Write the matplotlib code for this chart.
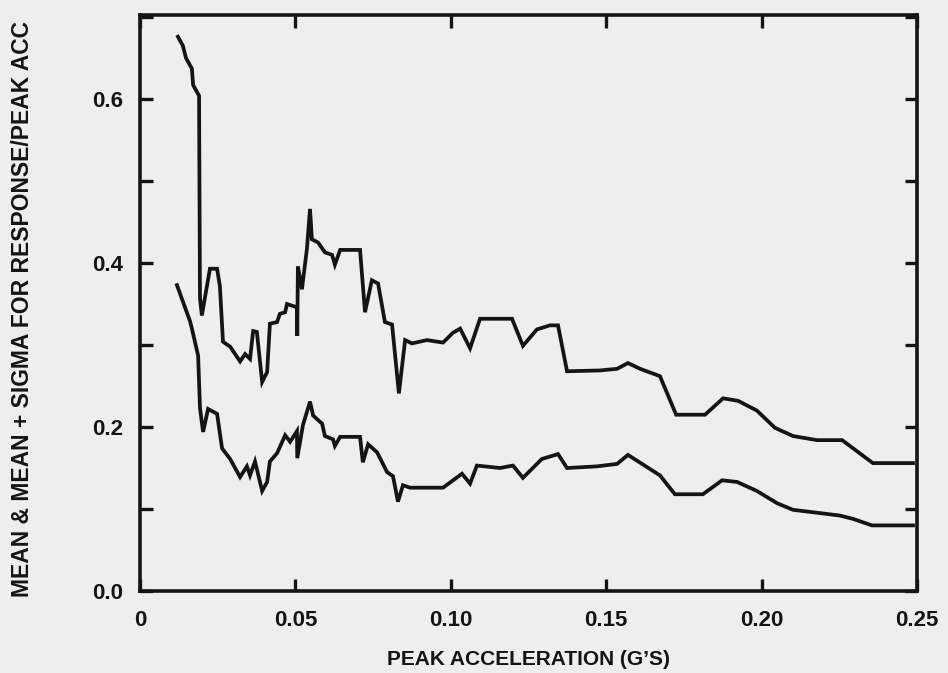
import matplotlib
matplotlib.use("Agg")
import matplotlib.pyplot as plt
from matplotlib.ticker import MultipleLocator, FixedLocator

# ---- data ----
upper_x = [0.0122, 0.0138, 0.0148, 0.0167, 0.0171, 0.0190, 0.0193, 0.0199, 0.0225, 0.0248,
           0.0257, 0.0267, 0.0290, 0.0322, 0.0338, 0.0354, 0.0364, 0.0376, 0.0393, 0.0409,
           0.0418, 0.0441, 0.0450, 0.0467, 0.0473, 0.0505, 0.0506, 0.0508, 0.0521, 0.0537,
           0.0547, 0.0553, 0.0573, 0.0595, 0.0618, 0.0627, 0.0644, 0.0708, 0.0724, 0.0746,
           0.0766, 0.0788, 0.0811, 0.0833, 0.0853, 0.0875, 0.0923, 0.0975, 0.1007, 0.1030,
           0.1062, 0.1094, 0.1197, 0.1232, 0.1277, 0.1319, 0.1345, 0.1374, 0.1480, 0.1535,
           0.1570, 0.1609, 0.1673, 0.1725, 0.1818, 0.1876, 0.1924, 0.1985, 0.2043, 0.2101,
           0.2178, 0.2259, 0.2358, 0.2487]
upper_y = [0.676, 0.665, 0.650, 0.637, 0.617, 0.604, 0.357, 0.336, 0.393, 0.393,
           0.372, 0.304, 0.298, 0.280, 0.289, 0.283, 0.317, 0.316, 0.255, 0.267,
           0.326, 0.328, 0.338, 0.340, 0.350, 0.346, 0.311, 0.396, 0.368, 0.417,
           0.466, 0.429, 0.425, 0.413, 0.410, 0.398, 0.416, 0.416, 0.340, 0.379,
           0.375, 0.328, 0.325, 0.241, 0.306, 0.302, 0.306, 0.303, 0.315, 0.320,
           0.296, 0.332, 0.332, 0.299, 0.319, 0.324, 0.324, 0.268, 0.269, 0.271,
           0.278, 0.271, 0.262, 0.215, 0.215, 0.235, 0.232, 0.220, 0.199, 0.189,
           0.184, 0.184, 0.156, 0.156]

lower_x = [0.0119, 0.0138, 0.0161, 0.0167, 0.0187, 0.0193, 0.0203, 0.0219, 0.0248, 0.0264,
           0.0290, 0.0322, 0.0344, 0.0354, 0.0370, 0.0393, 0.0409, 0.0418, 0.0441, 0.0467,
           0.0483, 0.0505, 0.0506, 0.0524, 0.0547, 0.0557, 0.0586, 0.0595, 0.0621, 0.0627,
           0.0644, 0.0708, 0.0717, 0.0734, 0.0763, 0.0795, 0.0814, 0.0830, 0.0846, 0.0869,
           0.0975, 0.1036, 0.1062, 0.1084, 0.1158, 0.1200, 0.1232, 0.1293, 0.1345, 0.1374,
           0.1470, 0.1535, 0.1570, 0.1673, 0.1721, 0.1811, 0.1873, 0.1921, 0.1985, 0.2050,
           0.2101, 0.2188, 0.2252, 0.2294, 0.2355, 0.2487]
lower_y = [0.373, 0.353, 0.329, 0.320, 0.287, 0.223, 0.194, 0.222, 0.216, 0.174,
           0.161, 0.139, 0.152, 0.141, 0.158, 0.122, 0.133, 0.158, 0.168, 0.190,
           0.182, 0.195, 0.162, 0.202, 0.231, 0.214, 0.204, 0.189, 0.185, 0.177,
           0.188, 0.188, 0.157, 0.179, 0.169, 0.145, 0.140, 0.109, 0.129, 0.126,
           0.126, 0.143, 0.131, 0.153, 0.150, 0.153, 0.138, 0.161, 0.167, 0.150,
           0.152, 0.155, 0.166, 0.141, 0.118, 0.118, 0.135, 0.133, 0.122, 0.107,
           0.099, 0.095, 0.092, 0.088, 0.080, 0.080]

x_ticks = [0, 0.05, 0.10, 0.15, 0.20, 0.25]
x_tick_labels = ["0", "0.05", "0.10", "0.15", "0.20", "0.25"]
y_ticks = [0.0, 0.2, 0.4, 0.6]
y_tick_labels = ["0.0", "0.2", "0.4", "0.6"]
x_label = "PEAK ACCELERATION (G’S)"
y_label = "MEAN & MEAN + SIGMA FOR RESPONSE/PEAK ACC"

# ---- figure ----
plt.rcParams['font.family'] = ['Liberation Sans', 'DejaVu Sans']
bg = '#eeeeee'
ink = '#141414'
fig = plt.figure(figsize=(9.48, 6.73), dpi=100, facecolor=bg)
ax = fig.add_axes([140/948, 1 - 591/673, 777/948, 576/673], facecolor=bg)

ax.plot(upper_x, upper_y, color=ink, lw=2.7, solid_joinstyle='miter')
ax.plot(lower_x, lower_y, color=ink, lw=2.7, solid_joinstyle='miter')

ax.set_xlim(0, 0.25)
ax.set_ylim(0, 0.7025)

ax.xaxis.set_major_locator(FixedLocator(x_ticks))
ax.set_xticklabels(x_tick_labels, fontweight='bold')
ax.yaxis.set_major_locator(FixedLocator(y_ticks))
ax.set_yticklabels(y_tick_labels, fontweight='bold')
ax.yaxis.set_minor_locator(MultipleLocator(0.1))

ax.tick_params(which='both', direction='in', length=9, width=2.4, color=ink,
               top=True, right=True, bottom=True, left=True)
ax.tick_params(axis='x', which='major', labelsize=16, pad=14, labelcolor=ink)
ax.tick_params(axis='y', which='major', labelsize=16, pad=12, labelcolor=ink)

for s in ax.spines.values():
    s.set_linewidth(2.6)
    s.set_color(ink)

ax.set_xlabel(x_label, fontsize=15, fontweight='bold', color=ink)
ax.xaxis.set_label_coords(0.5, -(650 - 591) / 576)
ax.set_ylabel(y_label, fontsize=16.5, fontweight='bold', color=ink)
ax.yaxis.set_label_coords((34 - 140) / 777, 0.49)

fig.savefig("out.png", dpi=100, facecolor=bg)
